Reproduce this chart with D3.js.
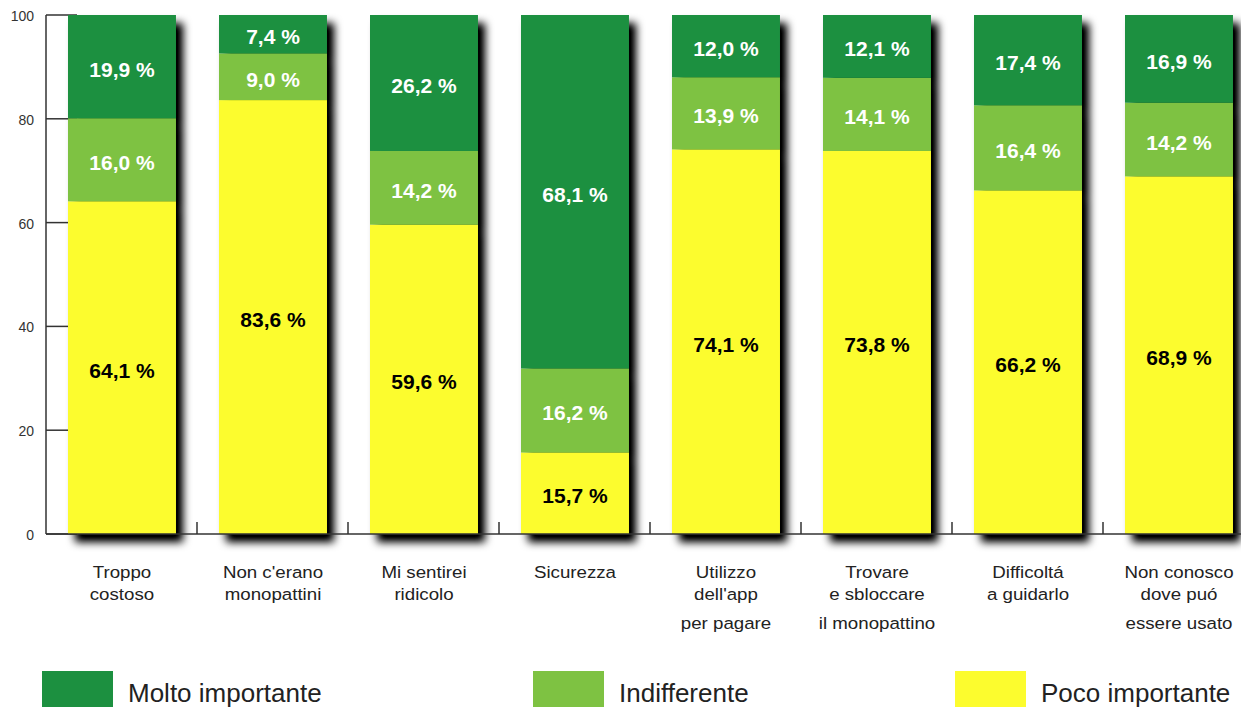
<!DOCTYPE html>
<html><head><meta charset="utf-8">
<script src="https://cdn.jsdelivr.net/npm/d3@7"></script>
<style>body{margin:0;background:#fff}svg{display:block}text{font-family:"Liberation Sans",Arial,sans-serif}</style>
</head><body>
<svg id="c" width="1241" height="710"></svg>
<script>
const categories = [
  ["Troppo","costoso"],
  ["Non c'erano","monopattini"],
  ["Mi sentirei","ridicolo"],
  ["Sicurezza"],
  ["Utilizzo","dell'app","per pagare"],
  ["Trovare","e sbloccare","il monopattino"],
  ["Difficoltá","a guidarlo"],
  ["Non conosco","dove puó","essere usato"]
];
const seriesNames = ["Poco importante","Indifferente","Molto importante"];
const poco = [64.1, 83.6, 59.6, 15.7, 74.1, 73.8, 66.2, 68.9];
const indiff = [16.0, 9.0, 14.2, 16.2, 13.9, 14.1, 16.4, 14.2];
const molto = [19.9, 7.4, 26.2, 68.1, 12.0, 12.1, 17.4, 16.9];
const yTicks = [0, 20, 40, 60, 80, 100];
const colors = ["#fcfc2e", "#7ec242", "#1c9040"];
const textColors = ["#000", "#fff", "#fff"];

const svg = d3.select("#c");
const keys = categories.map((c,i)=>i);
const x = d3.scaleBand().domain(keys).range([46, 46 + 8*151]).padding(0);
const y = d3.scaleLinear().domain([0,100]).range([534, 15]);
const barOff = 22, barW = x.bandwidth()*0.715;

const defs = svg.append("defs");
const f = defs.append("filter").attr("id","sh").attr("x","-20%").attr("y","-20%").attr("width","150%").attr("height","150%");
f.append("feGaussianBlur").attr("in","SourceAlpha").attr("stdDeviation",4).attr("result","b");
f.append("feOffset").attr("in","b").attr("dx",7).attr("dy",8).attr("result","o");
f.append("feComponentTransfer").attr("in","o").attr("result","o2")
  .append("feFuncA").attr("type","linear").attr("slope",1.1);
const m = f.append("feMerge");
m.append("feMergeNode").attr("in","o2");
m.append("feMergeNode").attr("in","SourceGraphic");

const data = keys.map(i => ({i, vals:[poco[i], indiff[i], molto[i]]}));
const stack = d3.stack().keys([0,1,2]).value((d,k)=>d.vals[k]);
const stacked = stack(data);

// y axis
const yAxis = svg.append("g");
yAxis.append("line").attr("x1",46).attr("x2",46).attr("y1",y(100)).attr("y2",y(0)).attr("stroke","#333").attr("stroke-width",1.5);

// bars
const barG = svg.append("g");
data.forEach((d,i)=>{
  const g = barG.append("g").attr("filter","url(#sh)");
  stacked.forEach((s,k)=>{
    const seg = s[i];
    g.append("rect").attr("x", x(i)+barOff).attr("width", barW)
      .attr("y", y(seg[1])).attr("height", y(seg[0]) - y(seg[1]))
      .attr("fill", colors[k]);
  });
});

// y ticks
yTicks.forEach(t=>{
  yAxis.append("line").attr("x1",46).attr("x2",77).attr("y1",y(t)).attr("y2",y(t)).attr("stroke","#333").attr("stroke-width",1.5);
  yAxis.append("text").attr("x",34).attr("y",y(t)+6).attr("text-anchor","end").attr("font-size",14).attr("fill","#333").text(t);
});

// x axis baseline
svg.append("line").attr("x1",46).attr("x2",1241).attr("y1",y(0)).attr("y2",y(0)).attr("stroke","#333").attr("stroke-width",1.5);
keys.slice(1).forEach(i=>{
  svg.append("line").attr("x1",x(i)).attr("x2",x(i)).attr("y1",y(0)).attr("y2",y(0)-12).attr("stroke","#333").attr("stroke-width",1.5);
});

// value labels
const fmt = v => d3.format(".1f")(v).replace(".",",") + " %";
stacked.forEach((s,k)=>{
  s.forEach((seg,i)=>{
    svg.append("text").attr("x", x(i)+barOff+barW/2).attr("y", y((seg[0]+seg[1])/2)+10)
      .attr("text-anchor","middle").attr("font-size",21).attr("font-weight","bold")
      .attr("fill", textColors[k]).text(fmt(seg[1]-seg[0]));
  });
});

// category labels
const lineY = [578, 600, 629];
categories.forEach((c,i)=>{
  c.forEach((ln,j)=>{
    svg.append("text").attr("transform", `translate(${x(i)+barOff+barW/2},${lineY[j]}) scale(1.1,1)`)
      .attr("text-anchor","middle").attr("font-size",17).attr("fill","#222").text(ln);
  });
});

// legend
const legendItems = [
  {name: seriesNames[2], color: colors[2], x: 42},
  {name: seriesNames[1], color: colors[1], x: 533},
  {name: seriesNames[0], color: colors[0], x: 955}
];
legendItems.forEach(l=>{
  svg.append("rect").attr("x", l.x).attr("y", 671).attr("width", 71).attr("height", 36).attr("fill", l.color);
  svg.append("text").attr("x", l.x + 86).attr("y", 702).attr("font-size",26).attr("fill","#222").text(l.name);
});
</script>
</body></html>
